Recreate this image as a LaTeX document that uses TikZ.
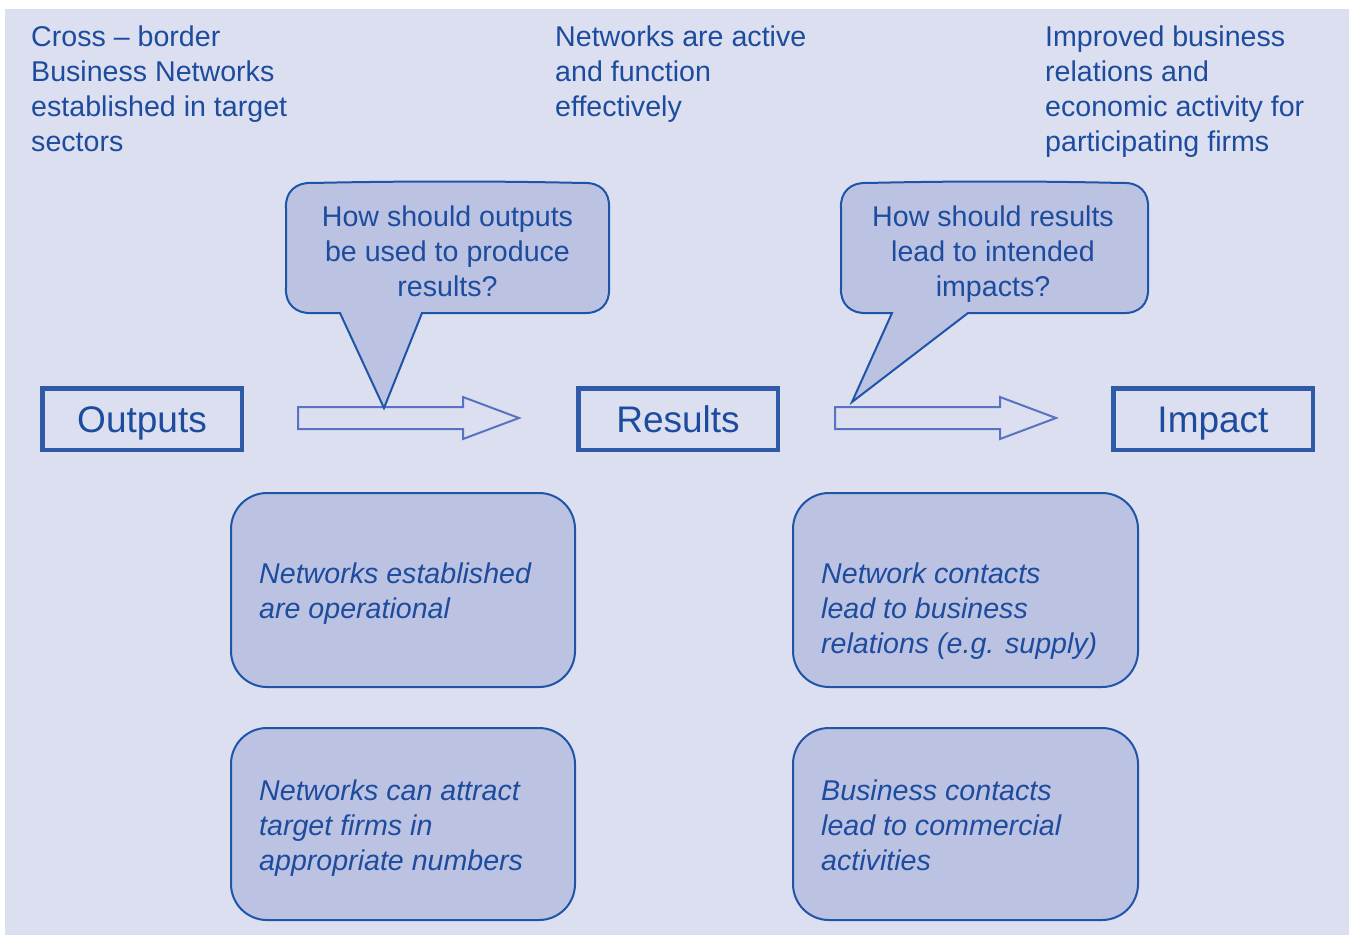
\documentclass[tikz,border=0pt]{standalone}
\usepackage{fontspec}
\setmainfont{Liberation Sans}
\definecolor{bg}{HTML}{DCDFF0}
\definecolor{fillc}{HTML}{BCC2E2}
\definecolor{txt}{HTML}{1D4C9E}
\definecolor{boxb}{HTML}{2E5AA8}
\definecolor{arr}{HTML}{5A72C2}
\definecolor{edgec}{HTML}{1F55A8}
\begin{document}
\begin{tikzpicture}[x=1pt,y=-1pt,
  main/.style={font=\fontsize{28.6}{35}\selectfont, text=txt},
  toptext/.style={main, align=left, anchor=north west, inner sep=0pt},
  calltext/.style={main, align=center, anchor=north, inner sep=0pt},
  boxtext/.style={main, font=\fontsize{28.6}{35}\selectfont\itshape, align=left, anchor=north west, inner sep=0pt},
  stage/.style={draw=boxb, line width=4.5pt, fill=bg, minimum width=199.5pt, minimum height=61.5pt, inner sep=0pt, text height=26.5pt, text depth=0pt, font=\fontsize{37}{44}\selectfont, text=txt},
  rbox/.style={draw=edgec, line width=2pt, fill=fillc, rounded corners=36pt, inner sep=0pt},
  callout/.style={draw=edgec, line width=2pt, fill=fillc, line join=miter},
  barrow/.style={draw=arr, line width=2pt, fill=bg, line join=miter}
]
\useasboundingbox (0,0) rectangle (1349,935);
\fill[white] (0,0) rectangle (1349,935);
\fill[bg] (5,9) rectangle (1349,935);

% top texts
\node[toptext] (t1) at (31,26) {Cross -- border\\Business Networks\\established in target\\sectors};
\node[toptext] (t2) at (555,26) {Networks are active\\and function\\effectively};
\node[toptext] (t3) at (1045,26) {Improved business\\relations and\\economic activity for\\participating firms};

% stage boxes
\node[stage] (out) at (142,419) {Outputs};
\node[stage] (res) at (678,419) {Results};
\node[stage] (imp) at (1213,419) {Impact};

% block arrows
\coordinate (a1) at (298,418);
\coordinate (a2) at (835,418);
\draw[barrow] (a1) ++(0,-11) -- ++(165,0) -- ++(0,-10) -- ++(56,21) -- ++(-56,21) -- ++(0,-10) -- ++(-165,0) -- cycle;
\draw[barrow] (a2) ++(0,-11) -- ++(165,0) -- ++(0,-10) -- ++(56,21) -- ++(-56,21) -- ++(0,-10) -- ++(-165,0) -- cycle;

% callouts
\coordinate (tip1) at (384,408);
\coordinate (tip2) at (852,402);
\draw[callout] (340,313) -- (tip1) -- (422,313) -- (583,313)
  .. controls (600,314) and (610,304) .. (609,288) -- (609,208)
  .. controls (610,192) and (600,182) .. (583,183)
  .. controls (500,181) and (400,181) .. (312,183)
  .. controls (296,182) and (285,192) .. (286,208) -- (286,288)
  .. controls (285,304) and (296,314) .. (312,313) -- cycle;
\draw[callout] (892,313) -- (tip2) -- (968,313) -- (1122,313)
  .. controls (1139,314) and (1149,304) .. (1148,288) -- (1148,208)
  .. controls (1149,192) and (1139,182) .. (1122,183)
  .. controls (1040,181) and (950,181) .. (867,183)
  .. controls (851,182) and (840,192) .. (841,208) -- (841,288)
  .. controls (840,304) and (851,314) .. (867,313) -- cycle;
\node[calltext] (q1) at (447.5,206) {How should outputs\\be used to produce\\results?};
\node[calltext] (q2) at (993,206) {How should results\\lead to intended\\impacts?};

% rounded boxes
\node[rbox, minimum width=344pt, minimum height=194pt] (bA) at (403,590) {};
\node[rbox, minimum width=345pt, minimum height=194pt] (bB) at (965.5,590) {};
\node[rbox, minimum width=344pt, minimum height=192pt] (bC) at (403,824) {};
\node[rbox, minimum width=345pt, minimum height=192pt] (bD) at (965.5,824) {};
\node[boxtext] (tA) at (259,563) {Networks established\\are operational};
\node[boxtext] (tB) at (821,563) {Network contacts\\lead to business\\relations (e.g. supply)};
\node[boxtext] (tC) at (259,780) {Networks can attract\\target firms in\\appropriate numbers};
\node[boxtext] (tD) at (821,780) {Business contacts\\lead to commercial\\activities};
\end{tikzpicture}
\end{document}
